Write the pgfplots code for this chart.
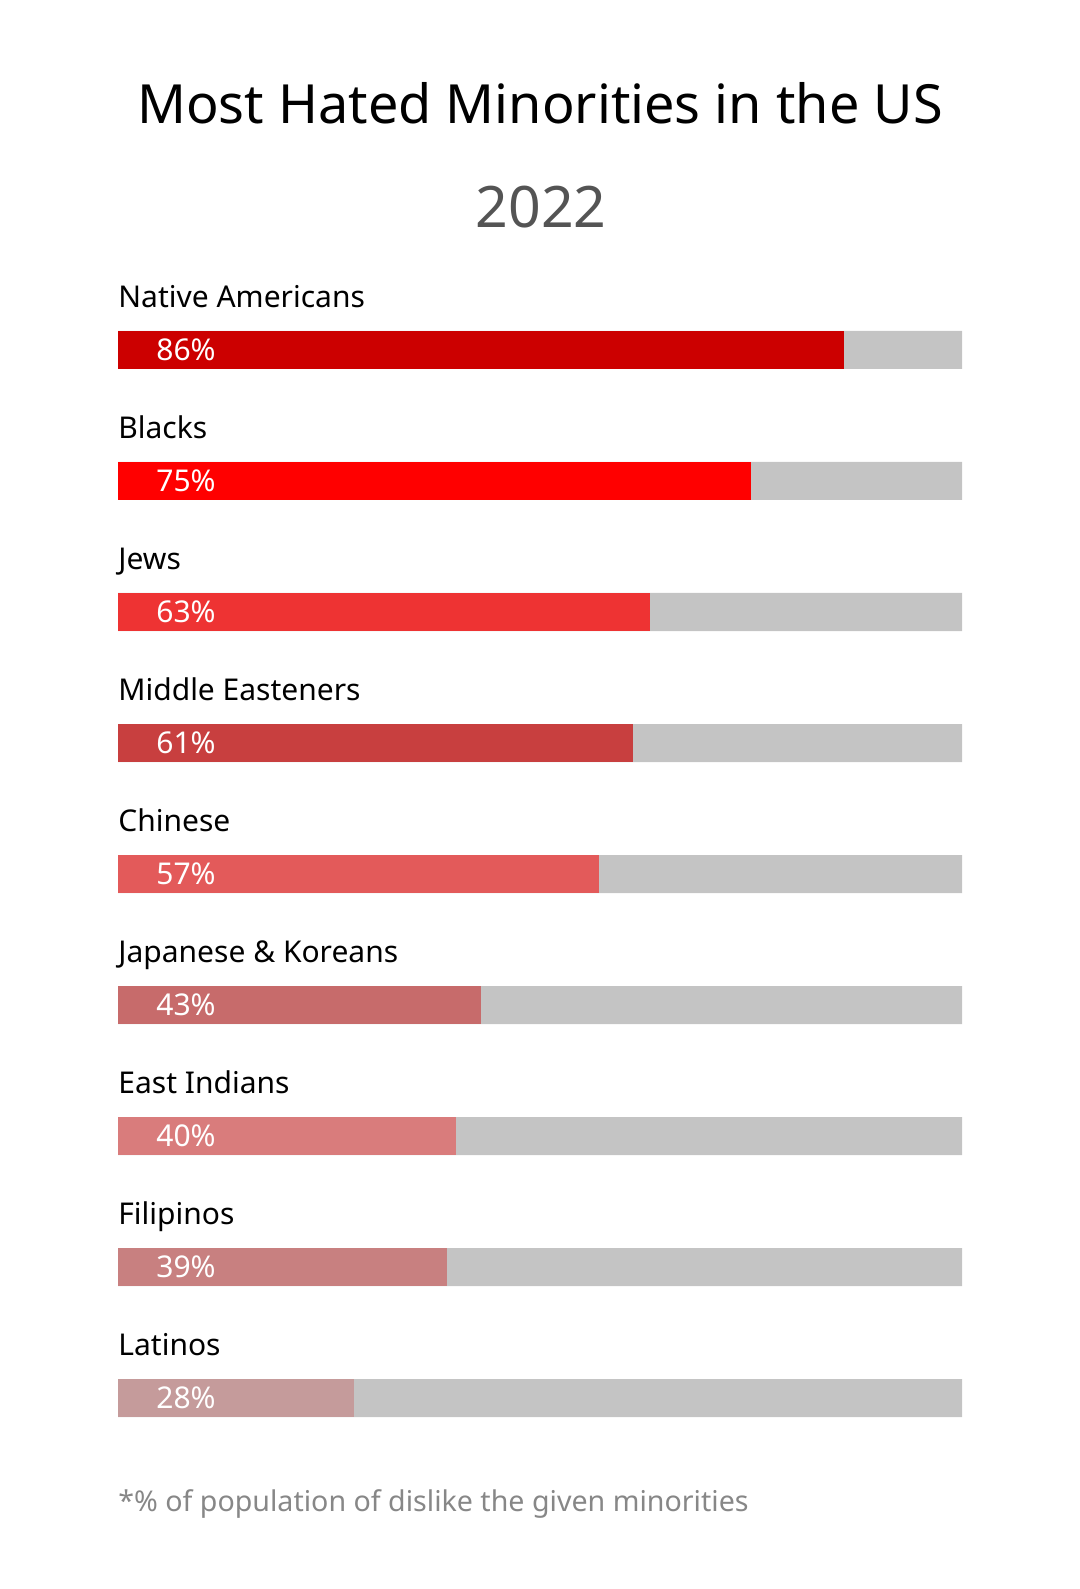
\documentclass[border=0pt]{standalone}
\usepackage{pgfplots}
\pgfplotsset{compat=1.18}
\usepackage{fontspec}
\setmainfont{Noto Sans}
\definecolor{c1}{HTML}{CC0000}
\definecolor{c2}{HTML}{FF0000}
\definecolor{c3}{HTML}{EE3333}
\definecolor{c4}{HTML}{C83F3F}
\definecolor{c5}{HTML}{E35A5A}
\definecolor{c6}{HTML}{C76B6B}
\definecolor{c7}{HTML}{D97C7C}
\definecolor{c8}{HTML}{C88080}
\definecolor{c9}{HTML}{C59B9B}
\definecolor{bg}{HTML}{C4C4C4}
\begin{document}
\begin{tikzpicture}
\path[use as bounding box] (0,0) rectangle (540pt,794.5pt);
\node[anchor=base, font=\fontsize{27}{32}\selectfont] at (270pt,732.5pt) {Most Hated Minorities in the US};
\node[anchor=base, font=\fontsize{28.6}{34}\selectfont, text=black!67] at (270.5pt,680.5pt) {2022};
\node[anchor=base west, inner sep=0pt, font=\fontsize{14.3}{18}\selectfont, text=black!47] at (59pt,38.5pt) {*\% of population of dislike the given minorities};
\begin{axis}[
  at={(59pt,652.25pt)}, anchor=north west,
  scale only axis, width=422pt, height=589.5pt,
  xmin=0, xmax=100, ymin=-0.5, ymax=8.5, y dir=reverse,
  axis line style={draw=none}, ticks=none,
  xbar, bar width=19pt, bar shift=0pt,
  every axis plot/.append style={draw=none},
  clip=false,
]
\addplot[fill=bg] coordinates {(100,0) (100,1) (100,2) (100,3) (100,4) (100,5) (100,6) (100,7) (100,8)};
\addplot[fill=c1] coordinates {(86,0)};
\addplot[fill=c2] coordinates {(75,1)};
\addplot[fill=c3] coordinates {(63,2)};
\addplot[fill=c4] coordinates {(61,3)};
\addplot[fill=c5] coordinates {(57,4)};
\addplot[fill=c6] coordinates {(43,5)};
\addplot[fill=c7] coordinates {(40,6)};
\addplot[fill=c8] coordinates {(39,7)};
\addplot[fill=c9] coordinates {(28,8)};
\foreach \i/\n/\v in {0/Native Americans/86, 1/Blacks/75, 2/Jews/63, 3/Middle Easteners/61, 4/Chinese/57, 5/Japanese \& Koreans/43, 6/East Indians/40, 7/Filipinos/39, 8/Latinos/28}{
  \edef\temp{\noexpand\node[anchor=base west, inner sep=0pt, font=\noexpand\fontsize{15}{18}\noexpand\selectfont] at (axis cs:0,\i-0.326) {\n};
  \noexpand\node[anchor=base west, inner sep=0pt, text=white, font=\noexpand\fontsize{15}{18}\noexpand\selectfont] at (axis cs:4.5,\i+0.082) {\v\noexpand\%};}
  \temp
}
\end{axis}
\end{tikzpicture}
\end{document}
